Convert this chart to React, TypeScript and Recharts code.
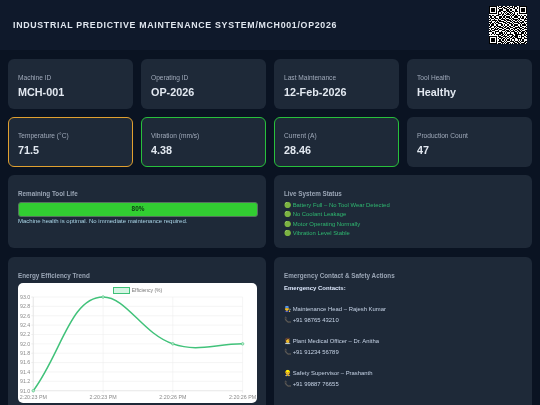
import React from 'react';
import { CartesianGrid, Legend, Line, LineChart, XAxis, YAxis } from 'recharts';

const timeLabels = ['2:20:23 PM', '2:20:23 PM', '2:20:26 PM', '2:20:26 PM'];
const efficiency = [91.0, 93.0, 92.0, 92.0];
const yTicks = [91.0, 91.2, 91.4, 91.6, 91.8, 92.0, 92.2, 92.4, 92.6, 92.8, 93.0];

const infoCards = [
  { label: 'Machine ID', value: 'MCH-001', border: '' },
  { label: 'Operating ID', value: 'OP-2026', border: '' },
  { label: 'Last Maintenance', value: '12-Feb-2026', border: '' },
  { label: 'Tool Health', value: 'Healthy', border: '' },
];
const sensorCards = [
  { label: 'Temperature (°C)', value: '71.5', border: '#e0a030' },
  { label: 'Vibration (mm/s)', value: '4.38', border: '#28c03c' },
  { label: 'Current (A)', value: '28.46', border: '#28c03c' },
  { label: 'Production Count', value: '47', border: '' },
];
const statusItems = [
  '🟢 Battery Full – No Tool Wear Detected',
  '🟢 No Coolant Leakage',
  '🟢 Motor Operating Normally',
  '🟢 Vibration Level Stable',
];
const contacts = [
  { who: '👨‍🔧 Maintenance Head – Rajesh Kumar', phone: '📞 +91 98765 43210' },
  { who: '👩‍⚕️ Plant Medical Officer – Dr. Anitha', phone: '📞 +91 91234 56789' },
  { who: '👷 Safety Supervisor – Prashanth', phone: '📞 +91 99887 76655' },
];

const qrRows = [
  '111111101011001101001011001111111',
  '100000100110110010111010101000001',
  '101110101001011101000110101011101',
  '101110100111000110110001001011101',
  '101110101100111011001101101011101',
  '100000101010010101110010001000001',
  '111111101010101010101010101111111',
  '000000001101100111010110100000000',
  '110100111001011000101101011010110',
  '011011000110110111010011100101001',
  '101101110101001001101100011011010',
  '010010001011110110010111101000111',
  '110111101100011011101001010110100',
  '001001010111100100110110101001011',
  '111010111000111011001011110111000',
  '010101001110001101110100011010101',
  '101100110011010010011011100101110',
  '011011011100101101100110010110001',
  '110010100111011010111001111001010',
  '001101011001100111000111001110111',
  '101011110110011001011010110101000',
  '010110001001110110100101011010011',
  '111001111010001011011110101101101',
  '000101000111010100100011010011010',
  '101010111101101011111001111110101',
  '000000001011010010001101100010110',
  '111111101100111101011011101011001',
  '100000100111001010110101100010100',
  '101110101010110101001110111110111',
  '101110100101101011010010010101000',
  '101110101110010100111101101011011',
  '100000100011101011000110110100110',
  '111111101101010110101011011011101',
];

const chartData = timeLabels.map((time, i) => ({ time, efficiency: efficiency[i] }));

// chart.js style bezier (tension 0.4), flattened at the peak like the reference
const chartJsCurve = (ctx: any) => {
  let pts: { x: number; y: number }[] = [];
  return {
    areaStart() {},
    areaEnd() {},
    lineStart() {
      pts = [];
    },
    point(x: number, y: number) {
      pts.push({ x, y });
    },
    lineEnd() {
      const t = 0.4;
      const minY = Math.min(...pts.map((p) => p.y));
      const ctrl = pts.map((p, i) => {
        const a = pts[Math.max(i - 1, 0)];
        const b = pts[Math.min(i + 1, pts.length - 1)];
        const d01 = Math.hypot(p.x - a.x, p.y - a.y);
        const d12 = Math.hypot(b.x - p.x, b.y - p.y);
        const total = d01 + d12 || 1;
        const fa = (t * d01) / total;
        const fb = (t * d12) / total;
        const flat = p.y === minY;
        return {
          px: p.x - fa * (b.x - a.x),
          py: flat ? p.y : p.y - fa * (b.y - a.y),
          nx: p.x + fb * (b.x - a.x),
          ny: flat ? p.y : p.y + fb * (b.y - a.y),
        };
      });
      pts.forEach((p, i) => {
        if (i === 0) ctx.moveTo(p.x, p.y);
        else ctx.bezierCurveTo(ctrl[i - 1].nx, ctrl[i - 1].ny, ctrl[i].px, ctrl[i].py, p.x, p.y);
      });
    },
  };
};

const panel: React.CSSProperties = {
  position: 'absolute',
  background: '#1e2938',
  borderRadius: 6,
  boxSizing: 'border-box',
};
const panelTitle: React.CSSProperties = {
  position: 'absolute',
  left: 10,
  fontSize: 6.3,
  lineHeight: '8px',
  fontWeight: 700,
  color: '#9aa5b5',
  whiteSpace: 'nowrap',
};
const bodyText: React.CSSProperties = {
  position: 'absolute',
  left: 10,
  fontSize: 5.9,
  lineHeight: '9px',
  whiteSpace: 'nowrap',
};
const columnX = [8, 141, 274, 407];

const StatCard = ({ card, x, y }: { card: (typeof infoCards)[number]; x: number; y: number }) => (
  <div
    style={{
      ...panel,
      left: x,
      top: y,
      width: 125,
      height: 49.5,
      border: card.border ? `1px solid ${card.border}` : 'none',
    }}
  >
    <div
      style={{
        position: 'absolute',
        left: card.border ? 9 : 10,
        top: card.border ? 14 : 15,
        fontSize: 6.6,
        lineHeight: '8px',
        color: '#a0aaba',
        whiteSpace: 'nowrap',
      }}
    >
      {card.label}
    </div>
    <div
      style={{
        position: 'absolute',
        left: card.border ? 9 : 10,
        top: card.border ? 25 : 26,
        fontSize: 10.8,
        lineHeight: '15px',
        fontWeight: 700,
        color: '#e2e8f0',
        whiteSpace: 'nowrap',
      }}
    >
      {card.value}
    </div>
  </div>
);

const EfficiencyLegend = () => (
  <div
    style={{
      display: 'flex',
      justifyContent: 'center',
      alignItems: 'center',
      height: 8,
      marginLeft: 14.4,
      fontSize: 5,
      color: '#777',
    }}
  >
    <span
      style={{
        width: 15,
        height: 5,
        marginRight: 2,
        border: '1px solid #3fc178',
        background: 'rgba(46,204,113,0.2)',
        boxSizing: 'content-box',
      }}
    />
    Efficiency (%)
  </div>
);

const EfficiencyChart = () => (
  <LineChart width={239} height={120} data={chartData} margin={{ top: 3, right: 14.4, bottom: 0, left: 0 }}>
    <CartesianGrid stroke="#eeeeee" strokeWidth={0.6} />
    <XAxis
      dataKey="time"
      interval={0}
      height={12.3}
      tick={{ fontSize: 5.3, fill: '#8a8a8a' }}
      tickSize={2}
      tickMargin={3}
      stroke="#e2e2e2"
      strokeWidth={0.6}
    />
    <YAxis
      domain={[91, 93]}
      ticks={yTicks}
      interval={0}
      width={15.3}
      tick={{ fontSize: 5.3, fill: '#8a8a8a' }}
      tickFormatter={(v: number) => v.toFixed(1)}
      tickSize={2}
      tickMargin={1}
      stroke="#e2e2e2"
      strokeWidth={0.6}
    />
    <Legend verticalAlign="top" height={11} content={<EfficiencyLegend />} />
    <Line
      dataKey="efficiency"
      type={chartJsCurve as any}
      stroke="#41c27a"
      strokeWidth={1.5}
      dot={{ r: 1.3, fill: '#bfeccf', stroke: '#41c27a', strokeWidth: 0.6 }}
      isAnimationActive={false}
    />
  </LineChart>
);

const QrCode = () => (
  <svg
    width={38}
    height={38}
    viewBox="0 0 33 33"
    shapeRendering="crispEdges"
    style={{ position: 'absolute', left: 489, top: 6, background: '#fff' }}
  >
    {qrRows.flatMap((row, r) =>
      row.split('').map((bit, c) => (bit === '1' ? <rect key={`${r}-${c}`} x={c} y={r} width={1} height={1} fill="#000" /> : null)),
    )}
  </svg>
);

export default function App() {
  return (
    <div
      style={{
        position: 'fixed',
        inset: 0,
        width: 540,
        height: 405,
        overflow: 'hidden',
        fontFamily: '"Liberation Sans", Arial, sans-serif',
        background: '#0a1322',
        filter: 'blur(0.3px)',
      }}
    >
      <div style={{ position: 'absolute', left: 0, top: 0, width: 540, height: 50, background: '#0f192b' }} />
      <div
        style={{
          position: 'absolute',
          left: 13,
          top: 19,
          fontSize: 8.8,
          lineHeight: '12px',
          fontWeight: 700,
          letterSpacing: 0.7,
          color: '#dfe5ee',
          whiteSpace: 'nowrap',
        }}
      >
        INDUSTRIAL PREDICTIVE MAINTENANCE SYSTEM/MCH001/OP2026
      </div>
      <QrCode />

      {infoCards.map((card, i) => (
        <StatCard key={card.label} card={card} x={columnX[i]} y={59} />
      ))}
      {sensorCards.map((card, i) => (
        <StatCard key={card.label} card={card} x={columnX[i]} y={117} />
      ))}

      <div style={{ ...panel, left: 8, top: 175, width: 258, height: 73 }}>
        <div style={{ ...panelTitle, top: 15 }}>Remaining Tool Life</div>
        <div
          style={{
            position: 'absolute',
            left: 10,
            top: 27,
            width: 240,
            height: 14.5,
            boxSizing: 'border-box',
            border: '1px solid #56705f',
            borderRadius: 3,
            background: '#32cd32',
            color: '#0b3b12',
            fontSize: 6.4,
            fontWeight: 700,
            lineHeight: '12.5px',
            textAlign: 'center',
          }}
        >
          80%
        </div>
        <div style={{ ...bodyText, top: 41.5, fontSize: 6, color: '#a9d4e6' }}>
          Machine health is optimal. No immediate maintenance required.
        </div>
      </div>

      <div style={{ ...panel, left: 274, top: 175, width: 257.5, height: 73 }}>
        <div style={{ ...panelTitle, top: 15 }}>Live System Status</div>
        {statusItems.map((item, i) => (
          <div key={item} style={{ ...bodyText, top: 26 + i * 9.3, color: '#2fb870' }}>
            {item}
          </div>
        ))}
      </div>

      <div style={{ ...panel, left: 8, top: 257, width: 258, height: 170 }}>
        <div style={{ ...panelTitle, top: 15 }}>Energy Efficiency Trend</div>
        <div style={{ position: 'absolute', left: 10, top: 26, width: 239, height: 120, background: '#fff', borderRadius: 5, overflow: 'hidden' }}>
          <EfficiencyChart />
        </div>
      </div>

      <div style={{ ...panel, left: 274, top: 257, width: 257.5, height: 170 }}>
        <div style={{ ...panelTitle, top: 15 }}>Emergency Contact &amp; Safety Actions</div>
        <div style={{ ...bodyText, top: 27, fontSize: 6, fontWeight: 700, color: '#dbe6fa' }}>Emergency Contacts:</div>
        {contacts.map((c, i) => (
          <React.Fragment key={c.who}>
            <div style={{ ...bodyText, top: 48 + i * 32, color: '#c6d3e6' }}>{c.who}</div>
            <div style={{ ...bodyText, top: 59 + i * 32, color: '#c6d3e6' }}>{c.phone}</div>
          </React.Fragment>
        ))}
      </div>
    </div>
  );
}
